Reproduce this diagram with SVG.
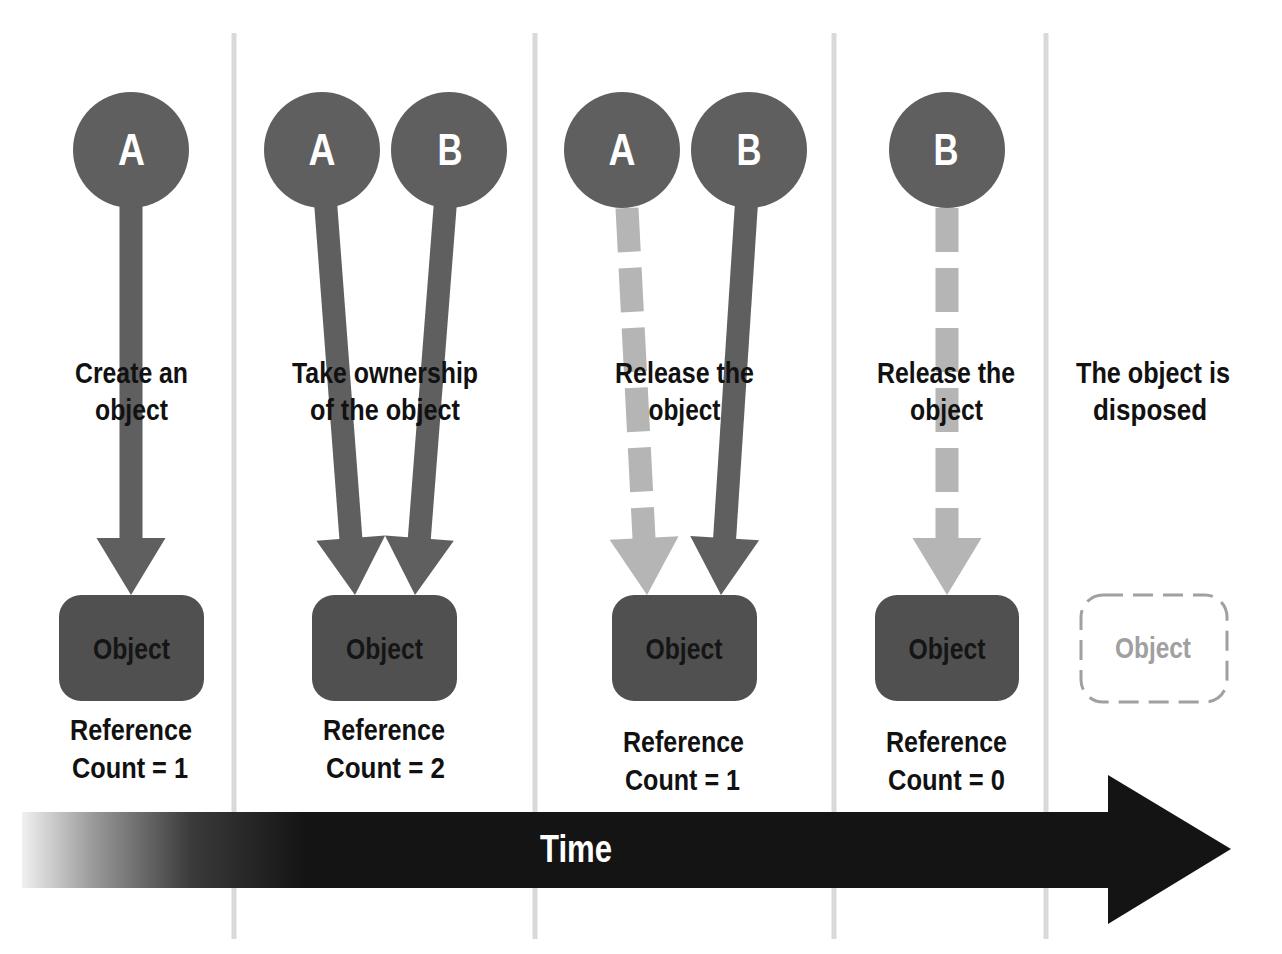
<svg xmlns="http://www.w3.org/2000/svg" width="1282" height="954" viewBox="0 0 1282 954">
  <defs>
    <linearGradient id="timeGrad" gradientUnits="userSpaceOnUse" x1="22" y1="0" x2="305" y2="0">
      <stop offset="0" stop-color="#f0f0f0"/>
      <stop offset="0.25" stop-color="#9a9a9a"/>
      <stop offset="0.6" stop-color="#3a3a3a"/>
      <stop offset="1" stop-color="#141414"/>
    </linearGradient>
  </defs>
  <style>
    .sep { stroke: #d9d9d9; stroke-width: 5; }
    .shaft { stroke: #5f5f5f; stroke-width: 23; fill: none; }
    .head { fill: #5f5f5f; }
    .dshaft { stroke: #b5b5b5; stroke-width: 23; fill: none; stroke-dasharray: 44 16; }
    .dhead { fill: #b5b5b5; }
    .circle { fill: #5f5f5f; }
    .letter { font-family: "Liberation Sans", Arial, sans-serif; font-weight: bold; font-size: 45px; fill: #ffffff; text-anchor: middle; }
    .box { fill: #505050; }
    .gbox { fill: none; stroke: #a0a0a0; stroke-width: 3; stroke-dasharray: 20 10; }
    .otext { font-family: "Liberation Sans", Arial, sans-serif; font-weight: bold; font-size: 30px; fill: #151515; text-anchor: middle; }
    .gtext { fill: #a0a0a0; }
    .cap { font-family: "Liberation Sans", Arial, sans-serif; font-weight: bold; font-size: 29px; fill: #111111; text-anchor: middle; }
    .time { font-family: "Liberation Sans", Arial, sans-serif; font-weight: bold; font-size: 38px; fill: #ffffff; text-anchor: middle; }
  </style>

  <rect x="0" y="0" width="1282" height="954" fill="#ffffff"/>

  <g id="separators">
    <line class="sep" x1="234" y1="33" x2="234" y2="939"/>
    <line class="sep" x1="535" y1="33" x2="535" y2="939"/>
    <line class="sep" x1="834" y1="33" x2="834" y2="939"/>
    <line class="sep" x1="1046" y1="33" x2="1046" y2="939"/>
  </g>

  <g id="connectors">
    <line class="shaft" x1="131" y1="195" x2="131" y2="540"/>
    <polygon class="head" points="96.5,538 165.5,538 131,595"/>

    <line class="shaft" x1="325" y1="195" x2="351" y2="540"/>
    <polygon class="head" points="316.35,540.73 385.15,535.59 355,595"/>

    <line class="shaft" x1="446" y1="195" x2="419.2" y2="540"/>
    <polygon class="head" points="385,535.52 453.78,540.84 415,595"/>

    <line class="dshaft" x1="627" y1="208" x2="644.1" y2="540"/>
    <polygon class="dhead" points="609.61,539.85 678.53,536.29 647,595"/>

    <line class="shaft" x1="747" y1="195" x2="724.5" y2="540"/>
    <polygon class="head" points="690.24,535.9 759.1,540.34 721,595"/>

    <line class="dshaft" x1="947" y1="208" x2="947" y2="540"/>
    <polygon class="dhead" points="912.5,538 981.5,538 947,595"/>
  </g>

  <g id="node-A1">
    <circle class="circle" cx="131" cy="150" r="58"/>
    <text class="letter" x="131.5" y="165" textLength="27" lengthAdjust="spacingAndGlyphs">A</text>
  </g>
  <g id="node-A2">
    <circle class="circle" cx="322" cy="150" r="58"/>
    <text class="letter" x="322" y="165" textLength="27" lengthAdjust="spacingAndGlyphs">A</text>
  </g>
  <g id="node-B2">
    <circle class="circle" cx="449" cy="150" r="58"/>
    <text class="letter" x="450" y="165" textLength="25" lengthAdjust="spacingAndGlyphs">B</text>
  </g>
  <g id="node-A3">
    <circle class="circle" cx="622" cy="150" r="58"/>
    <text class="letter" x="622" y="165" textLength="27" lengthAdjust="spacingAndGlyphs">A</text>
  </g>
  <g id="node-B3">
    <circle class="circle" cx="749" cy="150" r="58"/>
    <text class="letter" x="749" y="165" textLength="25" lengthAdjust="spacingAndGlyphs">B</text>
  </g>
  <g id="node-B4">
    <circle class="circle" cx="947" cy="150" r="58"/>
    <text class="letter" x="946" y="165" textLength="25" lengthAdjust="spacingAndGlyphs">B</text>
  </g>

  <g id="object-1">
    <rect class="box" x="59" y="595" width="145" height="106" rx="22"/>
    <text class="otext" x="131.5" y="659" textLength="77" lengthAdjust="spacingAndGlyphs">Object</text>
  </g>
  <g id="object-2">
    <rect class="box" x="312" y="595" width="145" height="106" rx="22"/>
    <text class="otext" x="384.5" y="659" textLength="77" lengthAdjust="spacingAndGlyphs">Object</text>
  </g>
  <g id="object-3">
    <rect class="box" x="612" y="595" width="145" height="106" rx="22"/>
    <text class="otext" x="684" y="659" textLength="77" lengthAdjust="spacingAndGlyphs">Object</text>
  </g>
  <g id="object-4">
    <rect class="box" x="875" y="595" width="144" height="106" rx="22"/>
    <text class="otext" x="947" y="659" textLength="77" lengthAdjust="spacingAndGlyphs">Object</text>
  </g>
  <g id="object-5">
    <rect class="gbox" x="1081" y="595" width="146" height="107" rx="22"/>
    <text class="otext gtext" x="1153" y="658" textLength="76" lengthAdjust="spacingAndGlyphs">Object</text>
  </g>

  <g id="captions">
    <text class="cap" x="131.5" y="383" textLength="113" lengthAdjust="spacingAndGlyphs">Create an</text>
    <text class="cap" x="131.5" y="420" textLength="73" lengthAdjust="spacingAndGlyphs">object</text>
    <text class="cap" x="385" y="383" textLength="186" lengthAdjust="spacingAndGlyphs">Take ownership</text>
    <text class="cap" x="385" y="420" textLength="150" lengthAdjust="spacingAndGlyphs">of the object</text>
    <text class="cap" x="684.5" y="383" textLength="139" lengthAdjust="spacingAndGlyphs">Release the</text>
    <text class="cap" x="684.5" y="420" textLength="72" lengthAdjust="spacingAndGlyphs">object</text>
    <text class="cap" x="946" y="383" textLength="138" lengthAdjust="spacingAndGlyphs">Release the</text>
    <text class="cap" x="946.5" y="420" textLength="73" lengthAdjust="spacingAndGlyphs">object</text>
    <text class="cap" x="1153" y="383" textLength="154" lengthAdjust="spacingAndGlyphs">The object is</text>
    <text class="cap" x="1150" y="420" textLength="114" lengthAdjust="spacingAndGlyphs">disposed</text>

    <text class="cap" x="131" y="740" textLength="122" lengthAdjust="spacingAndGlyphs">Reference</text>
    <text class="cap" x="130" y="778" textLength="116" lengthAdjust="spacingAndGlyphs">Count = 1</text>
    <text class="cap" x="384" y="740" textLength="122" lengthAdjust="spacingAndGlyphs">Reference</text>
    <text class="cap" x="385.5" y="778" textLength="119" lengthAdjust="spacingAndGlyphs">Count = 2</text>
    <text class="cap" x="683.5" y="752" textLength="121" lengthAdjust="spacingAndGlyphs">Reference</text>
    <text class="cap" x="682.5" y="790" textLength="115" lengthAdjust="spacingAndGlyphs">Count = 1</text>
    <text class="cap" x="946.5" y="752" textLength="121" lengthAdjust="spacingAndGlyphs">Reference</text>
    <text class="cap" x="946.5" y="790" textLength="117" lengthAdjust="spacingAndGlyphs">Count = 0</text>
  </g>

  <g id="time-arrow">
    <polygon fill="url(#timeGrad)" points="22,812 1108,812 1108,775 1231,849 1108,924 1108,888 22,888"/>
    <text class="time" x="576" y="862" textLength="72" lengthAdjust="spacingAndGlyphs">Time</text>
  </g>
</svg>
